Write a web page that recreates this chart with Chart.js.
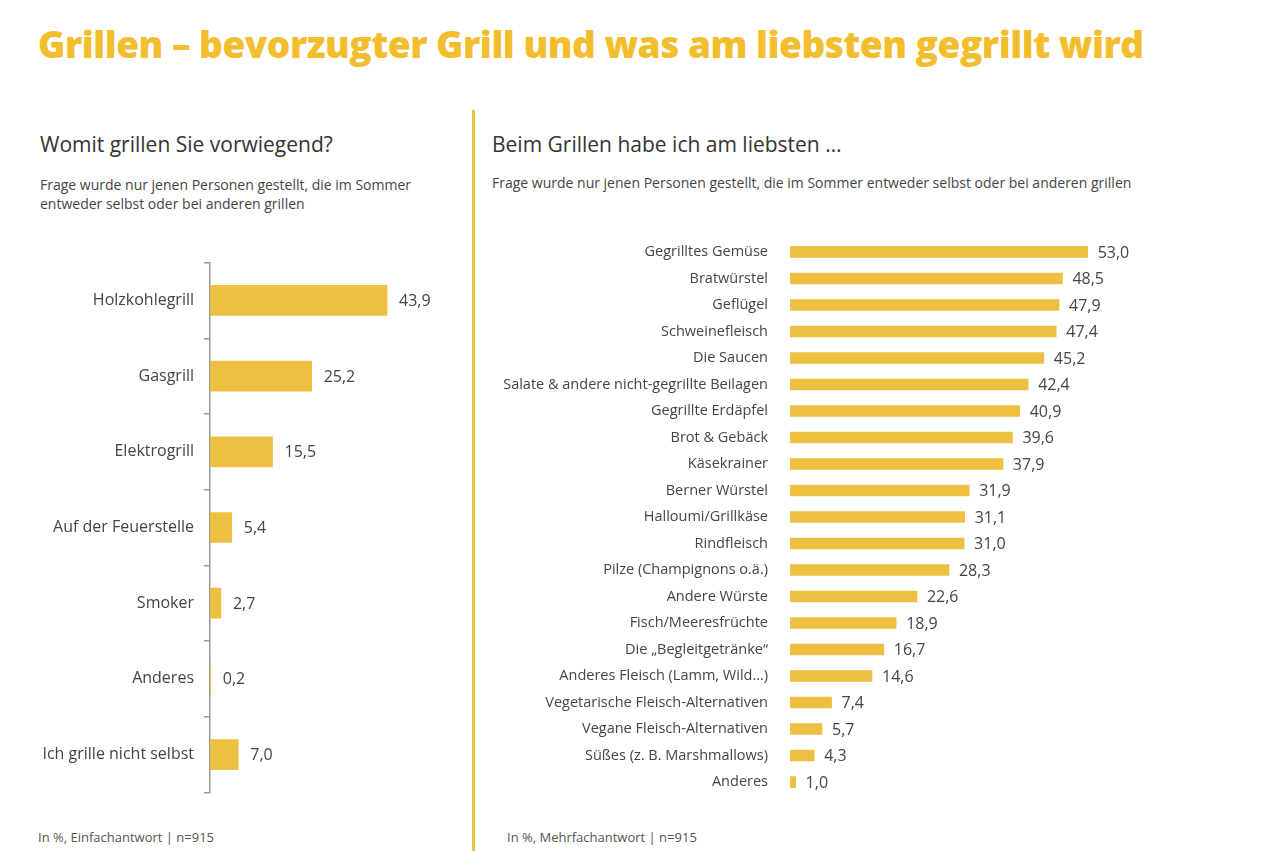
<!DOCTYPE html>
<html><head><meta charset="utf-8">
<script src="https://cdn.jsdelivr.net/npm/chart.js"></script>
<style>
body{margin:0;width:1280px;height:851px;background:#fff;position:relative;overflow:hidden;font-family:"Open Sans",sans-serif;color:#333}
.t{position:absolute;white-space:nowrap}
#title{left:38px;top:18px;font-size:37px;font-weight:800;color:#F3BE2D;letter-spacing:-0.5px}
.h{font-size:21px;color:#333}
.s{font-size:14px;color:#444;line-height:19px}
.f{font-size:13px;color:#555}
#div{position:absolute;left:472px;top:110px;width:3px;height:741px;background:#EFC040}
</style></head><body>
<div id="title" class="t">Grillen – bevorzugter Grill und was am liebsten gegrillt wird</div>
<div id="div"></div>
<div class="t h" style="left:40px;top:130px">Womit grillen Sie vorwiegend?</div>
<div class="t s" style="left:40px;top:175px">Frage wurde nur jenen Personen gestellt, die im Sommer<br>entweder selbst oder bei anderen grillen</div>
<div class="t h" style="left:492px;top:130px">Beim Grillen habe ich am liebsten …</div>
<div class="t s" style="left:492px;top:173px">Frage wurde nur jenen Personen gestellt, die im Sommer entweder selbst oder bei anderen grillen</div>
<div class="t f" style="left:38px;top:828px">In %, Einfachantwort | n=915</div>
<div class="t f" style="left:507px;top:828px">In %, Mehrfachantwort | n=915</div>
<div style="position:absolute;left:0;top:243px;width:470px;height:569px"><canvas id="c1"></canvas></div>
<div style="position:absolute;left:480px;top:214px;width:800px;height:606px"><canvas id="c2"></canvas></div>
<script>
const leftCats = ['Holzkohlegrill','Gasgrill','Elektrogrill','Auf der Feuerstelle','Smoker','Anderes','Ich grille nicht selbst'];
const leftVals = [43.9,25.2,15.5,5.4,2.7,0.2,7.0];
const rightCats = ['Gegrilltes Gemüse','Bratwürstel','Geflügel','Schweinefleisch','Die Saucen','Salate & andere nicht-gegrillte Beilagen','Gegrillte Erdäpfel','Brot & Gebäck','Käsekrainer','Berner Würstel','Halloumi/Grillkäse','Rindfleisch','Pilze (Champignons o.ä.)','Andere Würste','Fisch/Meeresfrüchte','Die „Begleitgetränke“','Anderes Fleisch (Lamm, Wild…)','Vegetarische Fleisch-Alternativen','Vegane Fleisch-Alternativen','Süßes (z. B. Marshmallows)','Anderes'];
const rightVals = [53.0,48.5,47.9,47.4,45.2,42.4,40.9,39.6,37.9,31.9,31.1,31.0,28.3,22.6,18.9,16.7,14.6,7.4,5.7,4.3,1.0];

const valueLabels = {
  id:'valueLabels',
  afterDatasetsDraw(chart, args, opts){
    const ctx = chart.ctx;
    ctx.save();
    ctx.font = opts.size + 'px "Open Sans"';
    ctx.fillStyle = '#444';
    ctx.textBaseline = 'middle';
    chart.getDatasetMeta(0).data.forEach((b, i) => {
      const v = chart.data.datasets[0].data[i];
      ctx.fillText(v.toFixed(1).replace('.', ','), b.x + opts.gap, b.y + 1);
    });
    ctx.restore();
  }
};

function make(id, cats, vals, yw, padR, thick, fs, vs, gap, axis){
  new Chart(document.getElementById(id), {
    type:'bar',
    data:{labels:cats, datasets:[{data:vals, backgroundColor:'#EDC042', barThickness:thick}]},
    options:{
      indexAxis:'y', responsive:true, maintainAspectRatio:false, animation:false,
      layout:{padding:{right:padR, top:0, bottom:0}},
      plugins:{legend:{display:false}, tooltip:{enabled:false}, valueLabels:{size:vs, gap:gap}},
      scales:{
        x:{display:false, min:0, max:60},
        y:{
          afterFit(s){ s.width = yw; },
          border:{display:axis, color:'#999', width:1.5},
          grid:{display:axis, offset:true, drawOnChartArea:false, tickLength:6, color:'#999', lineWidth:1.5},
          ticks:{color:'#444', font:{family:'Open Sans', size:fs}, padding:axis?10:16}
        }
      }
    },
    plugins:[valueLabels]
  });
}
make('c1', leftCats, leftVals, 210, 18, 30, 16, 16, 12, true);
make('c2', rightCats, rightVals, 310, 153, 11, 14.5, 16, 10, false);
</script>
</body></html>
